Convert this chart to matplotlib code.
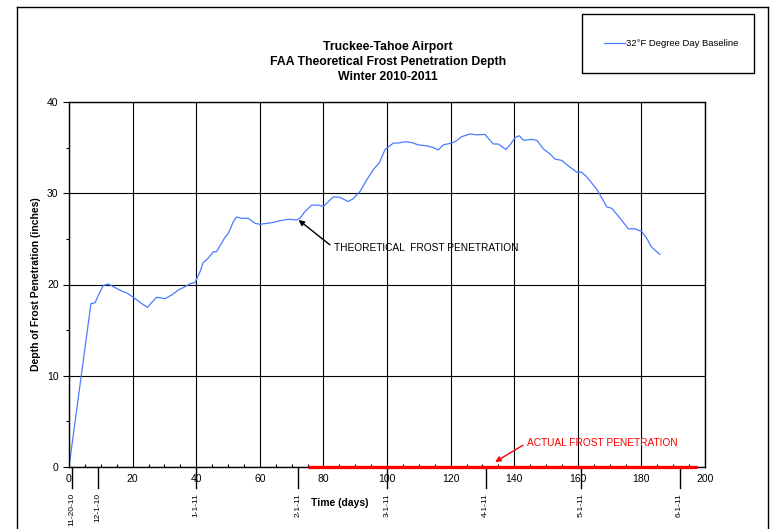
import matplotlib
matplotlib.use("Agg")
import matplotlib.pyplot as plt
from matplotlib.ticker import MultipleLocator
from matplotlib.patches import Rectangle
from matplotlib.lines import Line2D
import matplotlib.transforms as mtransforms

plt.rcParams['font.family'] = ['Liberation Sans', 'DejaVu Sans']

# Theoretical frost penetration (days since 11-20-10, depth in inches)
days = [0, 6.9, 8.2, 9.2, 10.8, 12.4, 13.9, 17.1, 18.1, 20.2, 22.9, 24.7, 26.2, 27.6,
        30.2, 32.3, 34.4, 36.5, 38.1, 39.6, 41.2, 42.2, 43.8, 45.4, 46.4, 49.1, 50.1,
        51.7, 52.7, 54.3, 56.4, 58.5, 60.1, 62.2, 64.2, 66.4, 69.0, 71.6, 72.6, 74.2,
        76.3, 78.4, 80.0, 83.1, 85.2, 87.8, 89.4, 91.5, 93.6, 95.7, 97.6, 99.4, 102.0,
        103.6, 105.7, 107.8, 109.8, 112.5, 114.6, 116.1, 117.7, 120.3, 121.4, 123.5,
        126.1, 128.2, 130.8, 132.4, 133.4, 135.0, 137.4, 138.7, 140.3, 141.6, 142.9,
        145.5, 147.1, 149.2, 151.3, 152.8, 154.9, 157.4, 159.7, 161.2, 162.8, 164.9,
        166.4, 169.1, 170.7, 173.3, 175.9, 178.0, 180.1, 181.7, 183.2, 185.8]
depth = [0, 17.9, 18.0, 18.8, 19.9, 20.05, 19.76, 19.2, 19.1, 18.6, 17.9, 17.5, 18.1, 18.6,
         18.45, 18.85, 19.4, 19.76, 20.1, 20.2, 21.4, 22.4, 22.9, 23.6, 23.6, 25.2, 25.6,
         26.9, 27.4, 27.25, 27.25, 26.7, 26.6, 26.7, 26.8, 27.0, 27.15, 27.07, 27.25, 28.0,
         28.7, 28.7, 28.55, 29.6, 29.55, 29.1, 29.4, 30.2, 31.45, 32.6, 33.35, 34.8, 35.5,
         35.5, 35.65, 35.55, 35.3, 35.2, 35.0, 34.75, 35.3, 35.5, 35.65, 36.2,
         36.5, 36.4, 36.45, 35.8, 35.4, 35.4, 34.8, 35.3, 36.1, 36.3, 35.8,
         35.9, 35.8, 34.85, 34.3, 33.75, 33.6, 32.9, 32.3, 32.3, 31.8, 30.9,
         30.2, 28.5, 28.35, 27.25, 26.1, 26.1, 25.8, 25.05, 24.1, 23.3]

# Actual frost penetration
actual_days = [75, 197.5]
actual_depth = [0, 0]

# Month markers below the axis
date_pos = [1, 9, 40, 72, 100, 131, 161, 192]
date_labels = ['11-20-10', '12-1-10', '1-1-11', '2-1-11', '3-1-11', '4-1-11', '5-1-11', '6-1-11']

W, H = 772, 529
fig = plt.figure(figsize=(W / 100, H / 100), dpi=100)
ax = fig.add_axes([69 / W, 1 - 467 / H, (705 - 69) / W, (467 - 102) / H])

blue, = ax.plot(days, depth, color='#4a7cff', lw=0.9, label='32°F Degree Day Baseline')
ax.plot(actual_days, actual_depth, color='#ff0000', lw=2.4, solid_capstyle='butt', clip_on=False, zorder=5)

ax.set_xlim(0, 200)
ax.set_ylim(0, 40)
ax.xaxis.set_major_locator(MultipleLocator(20))
ax.xaxis.set_minor_locator(MultipleLocator(5))
ax.yaxis.set_major_locator(MultipleLocator(10))
ax.yaxis.set_minor_locator(MultipleLocator(5))
ax.grid(True, which='major', color='black', lw=0.8)
ax.tick_params(axis='x', which='major', direction='in', length=0, pad=5, labelsize=7.5)
ax.tick_params(axis='x', which='minor', direction='in', length=2.5, width=0.8)
ax.tick_params(axis='y', which='major', direction='out', length=4.5, width=0.8, pad=3, labelsize=7.5)
ax.tick_params(axis='y', which='minor', direction='out', length=2.5, width=0.8)
for s in ax.spines.values():
    s.set_linewidth(1.0)

ax.set_ylabel('Depth of Frost Penetration (inches)', fontsize=7.5, fontweight='bold', labelpad=4)
fig.text(340 / W, 1 - 503 / H, 'Time (days)', fontsize=7.5, fontweight='bold', ha='center', va='center')

# date markers
trans = mtransforms.blended_transform_factory(ax.transData, ax.transAxes)
for p, lab in zip(date_pos, date_labels):
    ax.plot([p, p], [0, -0.058], color='black', lw=1.0, transform=trans, clip_on=False)
    ax.text(p, -0.071, lab, rotation=90, ha='center', va='top', fontsize=6.0, transform=trans)

# annotations
ax.annotate('THEORETICAL  FROST PENETRATION', xy=(72.2, 27.07), xytext=(83.3, 24.0),
            fontsize=7.3, ha='left', va='center',
            arrowprops=dict(arrowstyle='-|>', color='black', lw=1.0, mutation_scale=8,
                            relpos=(0, 0.5), shrinkA=1, shrinkB=0))
ax.annotate('ACTUAL FROST PENETRATION', xy=(134.0, 0.55), xytext=(144.0, 2.65),
            fontsize=7.3, ha='left', va='center', color='#ff0000',
            arrowprops=dict(arrowstyle='-|>', color='#ff0000', lw=1.0, mutation_scale=8,
                            relpos=(0, 0.5), shrinkA=1, shrinkB=0))

# title
fig.text(388 / W, 1 - 47 / H, 'Truckee-Tahoe Airport', fontsize=8.8, fontweight='bold', ha='center', va='center')
fig.text(388 / W, 1 - 62 / H, 'FAA Theoretical Frost Penetration Depth', fontsize=8.8, fontweight='bold', ha='center', va='center')
fig.text(388 / W, 1 - 77 / H, 'Winter 2010-2011', fontsize=8.8, fontweight='bold', ha='center', va='center')

# outer border
fig.add_artist(Line2D([17 / W, 17 / W], [0, 1 - 7 / H], color='black', lw=1.0, transform=fig.transFigure))
fig.add_artist(Line2D([17 / W, 768 / W], [1 - 7 / H, 1 - 7 / H], color='black', lw=1.0, transform=fig.transFigure))
fig.add_artist(Line2D([768 / W, 768 / W], [0, 1 - 7 / H], color='black', lw=1.0, transform=fig.transFigure))

# legend box
fig.add_artist(Rectangle((582 / W, 1 - 73 / H), (754 - 582) / W, (73 - 14) / H, fill=False,
                         edgecolor='black', lw=1.0, transform=fig.transFigure))
leg = fig.legend(handles=[blue], loc='center left', bbox_to_anchor=(599 / W, 1 - 44 / H),
                 frameon=False, fontsize=6.8, handlelength=2.2, handletextpad=0.2, borderpad=0)

fig.savefig('out.png', dpi=100)
